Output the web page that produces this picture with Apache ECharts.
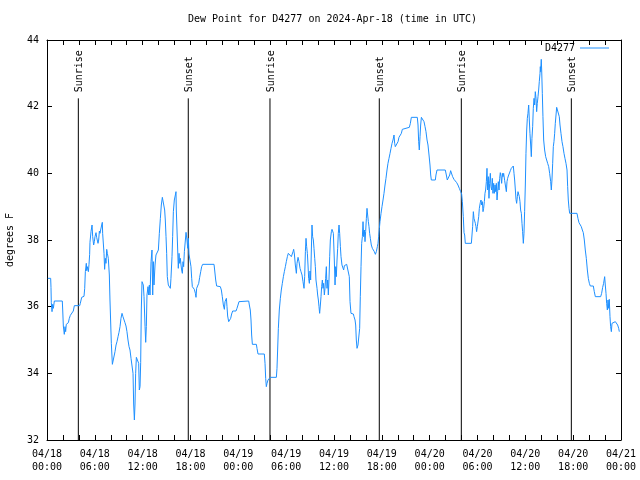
<!DOCTYPE html>
<html><head><meta charset="utf-8">
<script src="https://cdn.jsdelivr.net/npm/echarts/dist/echarts.min.js"></script>
<style>html,body{margin:0;padding:0;background:#fff}#c{width:640px;height:480px}</style>
</head><body><div id="c"></div>
<script>
// hours since 2024-04-18 00:00 UTC
const hours = [
0.1,0.46,0.5,0.54,0.63,0.71,0.80,0.92,1.92,1.97,2.05,2.17,2.26,2.34,2.42,2.68,2.80,2.93,3.18,3.30,3.43,4.10,4.18,4.35,4.64,4.73,4.81,4.93,4.98,5.06,5.19,5.27,5.35,5.39,5.52,5.65,5.73,5.85,5.94,6.02,6.15,6.23,6.31,6.40,6.48,6.57,6.65,6.73,6.86,6.94,6.98,7.07,7.15,7.23,7.32,7.40,7.49,7.57,7.69,7.82,7.90,7.99,8.07,8.20,8.45,8.53,8.66,8.78,8.91,9.03,9.16,9.28,9.41,9.53,9.66,9.78,9.91,10.03,10.16,10.29,10.41,10.54,10.70,10.79,10.87,10.96,11.04,11.12,11.21,11.42,11.50,11.58,11.67,11.75,11.83,11.92,
12.0,12.08,12.17,12.3,12.38,12.46,12.54,12.67,12.75,12.84,12.92,13.05,13.17,13.26,13.34,13.42,13.55,13.67,13.76,13.88,13.97,14.09,14.22,14.34,14.47,14.68,14.76,14.84,14.93,15.01,15.09,15.22,15.35,15.47,15.55,15.68,15.76,15.85,15.97,16.10,16.18,16.22,16.35,16.47,16.56,16.64,16.73,16.81,16.89,16.98,17.06,17.14,17.23,17.31,17.44,17.56,17.65,17.73,17.81,17.94,18.06,18.15,18.23,18.40,18.48,18.61,18.69,18.77,18.9,19.03,19.15,19.28,19.4,19.53,20.95,21.03,21.16,21.28,21.74,21.87,21.99,22.12,22.25,22.33,22.41,22.5,22.58,22.66,22.79,22.96,23.04,23.16,23.29,23.71,23.83,
23.96,24.08,24.25,25.3,25.38,25.5,25.59,25.67,25.76,26.26,26.34,26.47,27.26,27.35,27.43,27.51,27.6,27.72,27.85,28.01,28.77,28.85,28.93,29.02,29.14,29.27,29.39,29.52,29.65,29.77,29.9,30.02,30.15,30.27,30.52,30.65,30.77,30.86,30.94,31.03,31.15,31.28,31.36,31.49,31.61,31.74,31.86,31.99,32.11,32.24,32.32,32.41,32.49,32.57,32.66,32.74,32.82,32.91,32.99,33.07,33.16,33.24,33.32,33.41,33.49,33.58,33.66,33.74,33.87,33.95,34.04,34.12,34.2,34.29,34.37,34.45,34.54,34.62,34.7,34.79,34.87,34.95,35.04,35.12,35.21,35.29,35.37,35.46,35.54,35.67,
35.75,35.92,36.04,36.13,36.21,36.29,36.38,36.46,36.54,36.63,36.71,36.8,36.88,37.0,37.13,37.21,37.3,37.42,37.59,37.84,37.92,38.01,38.13,38.43,38.51,38.64,38.72,38.8,38.89,39.01,39.14,39.22,39.3,39.39,39.47,39.56,39.64,39.72,39.81,39.89,39.97,40.06,40.14,40.22,40.31,40.39,40.47,40.56,40.68,40.81,40.93,41.06,41.19,41.31,41.44,41.52,41.6,41.69,41.77,41.9,42.02,42.15,42.27,42.4,42.52,42.65,42.77,42.9,43.03,43.15,43.28,43.4,43.53,43.61,43.69,43.9,44.03,44.15,44.32,44.45,44.57,44.7,45.45,45.58,45.7,46.45,46.54,46.62,46.7,46.79,46.87,46.96,47.17,47.29,47.42,47.54,47.67,47.79,
47.92,48.04,48.13,48.21,48.71,48.79,48.92,49.96,50.09,50.21,50.38,50.51,50.63,50.76,50.88,51.05,51.22,51.39,51.55,51.72,51.89,52.01,52.1,52.22,52.31,52.39,52.47,53.23,53.31,53.39,53.48,53.56,53.64,53.73,53.81,53.89,53.98,54.06,54.15,54.23,54.35,54.44,54.52,54.61,54.69,54.77,54.86,54.94,55.02,55.11,55.19,55.27,55.36,55.44,55.52,55.61,55.69,55.78,55.86,55.94,56.03,56.11,56.2,56.28,56.36,56.45,56.53,56.61,56.7,56.78,56.86,56.95,57.03,57.12,57.2,57.28,57.41,57.53,57.62,57.7,57.78,57.87,57.99,58.12,58.24,58.37,58.49,58.58,58.66,58.75,58.83,58.91,59.0,59.08,59.16,59.25,59.33,59.41,59.5,
59.58,59.66,59.75,59.83,59.91,60.0,60.08,60.17,60.25,60.33,60.42,60.5,60.58,60.67,60.75,60.83,60.92,61.0,61.09,61.17,61.25,61.34,61.42,61.5,61.59,61.67,61.75,61.84,61.88,61.92,61.96,62.0,62.05,62.13,62.21,62.3,62.42,62.55,62.67,62.8,62.93,63.05,63.18,63.26,63.34,63.43,63.51,63.59,63.68,63.76,63.85,63.93,64.18,64.26,64.35,64.47,64.6,64.72,64.85,64.97,65.1,65.23,65.31,65.39,65.48,65.56,66.48,66.6,66.73,66.9,67.02,67.15,67.27,67.4,67.52,67.65,67.78,67.9,68.03,68.15,68.53,68.65,68.78,69.45,69.57,69.7,69.82,69.95,70.03,70.12,70.2,70.29,70.37,70.45,70.53,70.62,70.7,70.79,70.87,70.95,71.04,71.29,71.46,71.58,71.71,71.79
];
const dewPoint = [
36.85,36.85,36.58,36.12,35.85,36.07,35.95,36.17,36.17,35.9,35.42,35.17,35.4,35.25,35.47,35.52,35.65,35.74,35.77,35.87,36.03,36.03,36.1,36.28,36.31,36.55,37.05,37.3,37.08,37.2,37.05,37.27,37.57,37.93,38.25,38.45,38.1,37.85,37.95,38.1,38.22,38.08,38.14,37.9,38.0,38.27,38.2,38.3,38.45,38.53,38.2,38.17,37.6,37.12,37.45,37.3,37.72,37.6,37.45,36.95,36.2,36.17,34.9,34.27,34.27,34.65,34.85,34.95,35.1,35.23,35.4,35.65,35.8,35.7,35.65,35.52,35.42,35.25,35.0,34.8,34.7,34.45,34.45,34.0,33.08,32.6,33.08,34.0,34.48,34.45,34.3,33.5,33.6,34.32,35.9,36.75,
36.7,36.65,36.3,35.4,34.93,35.4,36.35,36.6,36.35,36.65,36.35,37.35,37.7,36.35,37.35,36.65,37.25,37.55,37.5,37.52,37.7,38.2,38.65,39.05,39.28,39.28,38.9,38.6,38.1,37.6,36.9,36.65,36.6,36.55,36.85,37.5,38.1,38.85,39.2,39.35,39.45,38.9,38.0,37.15,37.6,37.3,37.45,37.25,37.1,37.0,37.35,37.2,37.65,37.7,38.23,38.0,37.75,38.05,37.58,37.55,37.2,36.85,36.6,36.58,36.52,36.4,36.28,36.55,36.55,36.7,36.88,37.05,37.2,37.27,37.27,37.1,36.8,36.62,36.6,36.5,36.3,36.05,35.92,36.15,36.1,36.25,36.0,35.72,35.55,35.55,35.65,35.78,35.87,35.87,35.95,
36.05,36.15,36.17,36.17,36.05,35.9,35.6,35.15,34.87,34.87,34.75,34.58,34.58,34.3,33.85,33.6,33.7,33.8,33.85,33.88,33.88,34.15,34.7,35.35,35.9,36.25,36.5,36.7,36.9,37.05,37.2,37.35,37.5,37.6,37.58,37.5,37.55,37.65,37.72,37.58,37.25,37.0,37.3,37.48,37.35,37.15,37.05,36.95,36.75,36.55,36.9,37.65,38.05,37.8,37.6,37.25,36.85,36.7,37.07,36.8,37.7,38.45,38.1,38.0,37.75,37.45,37.2,36.8,36.55,36.35,36.2,36.0,35.8,36.05,36.3,36.6,36.8,36.55,36.7,36.35,36.55,36.85,37.2,36.55,36.8,36.35,36.8,37.5,38.0,38.25,
38.32,38.2,37.4,36.65,37.2,36.9,37.4,37.75,38.2,38.45,38.2,37.8,37.5,37.25,37.2,37.1,37.23,37.25,37.27,37.27,36.9,36.15,35.8,35.78,35.7,35.6,35.45,35.0,34.75,34.85,34.85,35.35,36.3,37.2,37.9,38.1,38.55,38.1,38.3,37.95,38.25,38.65,38.95,38.75,38.55,38.4,38.2,38.05,37.85,37.75,37.7,37.65,37.57,37.65,37.8,37.9,38.1,38.35,38.55,38.8,39.0,39.2,39.4,39.65,39.85,40.1,40.3,40.45,40.6,40.75,40.9,41.0,41.15,40.9,40.8,40.8,40.95,41.08,41.12,41.2,41.32,41.38,41.38,41.5,41.68,41.68,41.45,40.95,40.7,41.1,41.45,41.68,41.68,41.55,41.4,41.25,41.0,40.85,
40.55,40.25,39.95,39.8,39.8,39.95,40.1,40.1,39.95,39.8,39.8,39.95,40.08,40.02,39.9,39.82,39.78,39.72,39.65,39.55,39.45,39.38,39.15,38.7,38.22,38.15,37.9,37.9,38.15,38.4,38.85,38.65,38.6,38.5,38.4,38.25,38.4,38.45,38.7,38.95,39.12,39.2,39.05,39.15,38.85,38.95,39.15,39.4,39.5,39.75,40.15,39.5,39.9,39.25,39.7,40.0,39.6,39.5,39.85,39.4,39.7,39.4,39.65,39.45,39.7,39.2,39.45,39.75,39.5,39.85,40.02,39.9,39.7,40.0,39.9,40.0,39.78,39.75,39.45,39.75,39.85,39.92,39.98,40.08,40.15,40.1,40.22,40.0,39.8,39.5,39.22,39.1,39.3,39.45,39.45,39.3,39.15,38.9,38.8,
38.5,38.25,37.9,38.2,38.85,39.65,40.6,41.3,41.65,41.8,42.05,41.6,41.2,40.85,40.5,41.05,41.4,41.95,42.25,42.05,42.45,42.25,41.85,42.1,42.3,42.5,42.75,43.0,43.2,43.05,43.25,43.42,43.1,42.4,41.7,41.0,40.7,40.5,40.45,40.3,40.2,40.0,39.75,39.5,39.8,40.3,40.8,40.95,41.2,41.5,41.75,41.98,41.98,41.7,41.45,41.2,40.95,40.8,40.6,40.45,40.3,40.1,39.6,39.2,38.95,38.8,38.8,38.65,38.52,38.48,38.4,38.3,38.22,38.0,37.7,37.45,37.1,36.85,36.7,36.62,36.62,36.45,36.3,36.3,36.4,36.58,36.7,36.9,36.65,36.4,36.1,35.9,36.2,35.95,36.22,35.7,35.4,35.25,35.5,35.45,35.55,35.55,35.55,35.45,35.35,35.25
];
const xTickLabels = ['04/18\n00:00','04/18\n06:00','04/18\n12:00','04/18\n18:00','04/19\n00:00','04/19\n06:00','04/19\n12:00','04/19\n18:00','04/20\n00:00','04/20\n06:00','04/20\n12:00','04/20\n18:00','04/21\n00:00'];
const eventNames = ['Sunrise','Sunset','Sunrise','Sunset','Sunrise','Sunset'];
const eventHours = [3.93,17.72,27.97,41.68,51.97,65.77];
const seriesName = 'D4277';
const titleText = 'Dew Point for D4277 on 2024-Apr-18 (time in UTC)';
const yName = 'degrees F';

const FONT = 'DejaVu Sans Mono';
const chart = echarts.init(document.getElementById('c'), null, {renderer:'canvas'});
const lineData = hours.map((h,i)=>[h, dewPoint[i]]);
const eventData = eventHours.map((h,i)=>[h, 42.25, i]);

const xBase = {type:'value', min:0, max:72, interval:6, splitLine:{show:false},
  axisLine:{show:true, onZero:false, lineStyle:{color:'#000', width:1}},
  axisTick:{show:true, inside:true, length:5, lineStyle:{color:'#000'}},
  minorTick:{show:true, splitNumber:3, length:5, lineStyle:{color:'#000'}}};
const yBase = {type:'value', min:32, max:44, interval:2, splitLine:{show:false},
  axisLine:{show:true, onZero:false, lineStyle:{color:'#000', width:1}},
  axisTick:{show:true, inside:true, length:5, lineStyle:{color:'#000'}}};

chart.setOption({
  animation:false,
  backgroundColor:'#fff',
  textStyle:{fontFamily:FONT},
  title:{text:titleText, left:188, top:14, padding:0,
    textStyle:{fontFamily:FONT, fontSize:10, fontWeight:'normal', color:'#000'}},
  legend:{data:[seriesName], right:31, top:43, padding:0, align:'right',
    itemWidth:29, itemHeight:1, icon:'rect',
    textStyle:{fontFamily:FONT, fontSize:10, color:'#000'}},
  grid:{left:47, right:19, top:40, bottom:40, containLabel:false, outerBoundsMode:'none'},
  xAxis:[
    Object.assign({}, xBase, {position:'bottom',
      axisLabel:{show:true, margin:8, lineHeight:13, fontFamily:FONT, fontSize:10, color:'#000',
        formatter:v=>xTickLabels[Math.round(v/6)]}}),
    Object.assign({}, xBase, {position:'top', axisLabel:{show:false}})
  ],
  yAxis:[
    Object.assign({}, yBase, {position:'left', name:yName, nameLocation:'middle', nameGap:32,
      nameTextStyle:{fontFamily:FONT, fontSize:10, color:'#000'},
      axisLabel:{show:true, margin:8, fontFamily:FONT, fontSize:10, color:'#000'}}),
    Object.assign({}, yBase, {position:'right', axisLabel:{show:false}})
  ],
  series:[
    {type:'custom', name:'events', xAxisIndex:0, yAxisIndex:0, silent:true, z:1,
      data:eventData,
      renderItem:function(params, api){
        const h = api.value(0);
        const top = api.value(1);
        const idx = api.value(2);
        const p0 = api.coord([h, 32]);
        const p1 = api.coord([h, top]);
        return {type:'group', children:[
          {type:'line', shape:{x1:p0[0], y1:p0[1], x2:p1[0], y2:p1[1]},
            style:{stroke:'#000', lineWidth:1}},
          {type:'text', x:p1[0]+1, y:p1[1]-6, rotation:Math.PI/2,
            style:{text:eventNames[idx], x:0, y:0, textAlign:'left', textVerticalAlign:'middle',
              font:'10px "DejaVu Sans Mono"', fill:'#000'}}
        ]};
      }
    },
    {type:'line', name:seriesName, data:lineData, showSymbol:false, symbol:'none', z:3,
      lineStyle:{color:'#1e90ff', width:1}, itemStyle:{color:'#1e90ff'}}
  ]
});
</script>
</body></html>
